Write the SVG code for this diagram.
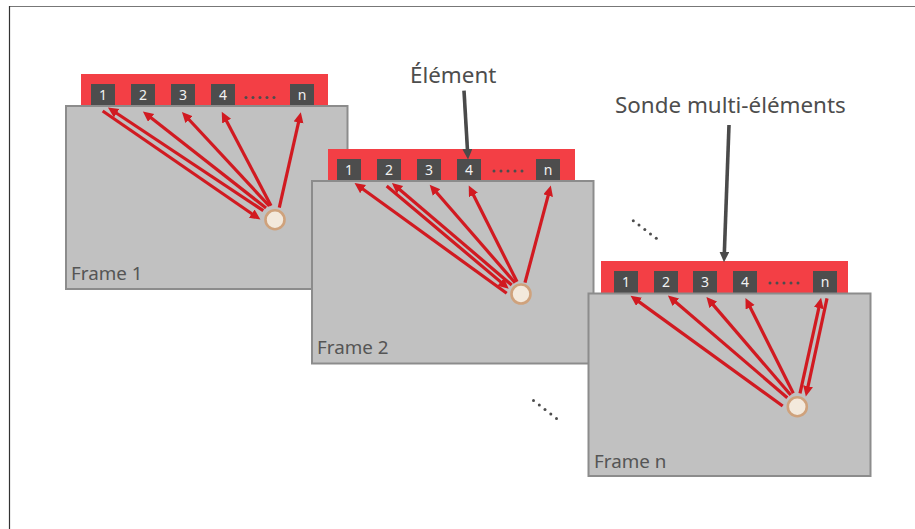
<svg xmlns="http://www.w3.org/2000/svg" width="915" height="529" viewBox="0 0 915 529">
<style>
text{font-family:"Noto Sans","Open Sans",sans-serif}
.bar{fill:#f33f45}
.el{fill:#4d4d4d}
.num{fill:#f2f2f2;font-size:14px;text-anchor:middle}
.body{fill:#c1c1c1;stroke:#8c8c8c;stroke-width:2}
.lab{fill:#555;font-size:18.800px}
.big{fill:#4d4d4d;font-size:22.400px}
.pt{fill:#f3e9dc;stroke:#cfa27c;stroke-width:2.600}
.dot{fill:#4d4d4d}
.r{stroke:#d11a21;stroke-width:3.200;fill:none;marker-end:url(#ar)}
.k{stroke:#4a4a4a;stroke-width:3.600;fill:none;marker-end:url(#ak)}
</style>
<defs>
<marker id="ar" markerUnits="userSpaceOnUse" markerWidth="12" markerHeight="11" refX="5" refY="5" orient="auto"><path d="M0,0L10.500,5L0,10z" fill="#d11a21"/></marker>
<marker id="ak" markerUnits="userSpaceOnUse" markerWidth="12" markerHeight="11" refX="5" refY="5" orient="auto"><path d="M0,0L10.500,5L0,10z" fill="#4a4a4a"/></marker>
</defs>
<rect width="915" height="529" fill="#fff"/>
<g id="border" fill="none"><path d="M915,6.500H9" stroke="#777" stroke-width="1.200"/><path d="M9.500,6V529" stroke="#333" stroke-width="1.200"/></g>
<g id="frame1">
<rect class="bar" x="81" y="74" width="247" height="32"/>
<rect class="el" x="91" y="84" width="24" height="22"/><rect class="el" x="131" y="84" width="24" height="22"/><rect class="el" x="171" y="84" width="24" height="22"/><rect class="el" x="211" y="84" width="24" height="22"/><rect class="el" x="290" y="84" width="24" height="22"/>
<text class="num" x="103" y="100">1</text><text class="num" x="143" y="100">2</text><text class="num" x="183" y="100">3</text><text class="num" x="223" y="100">4</text><text class="num" x="302" y="100">n</text>
<circle class="dot" cx="246" cy="97.500" r="1.500"/><circle class="dot" cx="253" cy="97.500" r="1.500"/><circle class="dot" cx="260" cy="97.500" r="1.500"/><circle class="dot" cx="267" cy="97.500" r="1.500"/><circle class="dot" cx="274" cy="97.500" r="1.500"/>
<rect class="body" x="66" y="106" width="281.500" height="183"/>
<text class="lab" x="71" y="280">Frame 1</text>
<circle class="pt" cx="275" cy="219.700" r="9.500"/>
</g>
<g id="frame2">
<rect class="bar" x="328" y="149" width="247" height="32"/>
<rect class="el" x="337" y="159" width="24" height="22"/><rect class="el" x="377" y="159" width="24" height="22"/><rect class="el" x="417" y="159" width="24" height="22"/><rect class="el" x="457" y="159" width="24" height="22"/><rect class="el" x="536" y="159" width="24" height="22"/>
<text class="num" x="349" y="175">1</text><text class="num" x="389" y="175">2</text><text class="num" x="429" y="175">3</text><text class="num" x="469" y="175">4</text><text class="num" x="548" y="175">n</text>
<circle class="dot" cx="494" cy="171" r="1.500"/><circle class="dot" cx="501" cy="171" r="1.500"/><circle class="dot" cx="508" cy="171" r="1.500"/><circle class="dot" cx="515" cy="171" r="1.500"/><circle class="dot" cx="522" cy="171" r="1.500"/>
<rect class="body" x="312" y="181" width="281.500" height="182.500"/>
<text class="lab" x="317" y="354">Frame 2</text>
<circle class="pt" cx="521" cy="294" r="9.500"/>
</g>
<g id="framen">
<rect class="bar" x="601" y="261" width="247" height="32"/>
<rect class="el" x="614" y="271" width="24" height="22"/><rect class="el" x="654" y="271" width="24" height="22"/><rect class="el" x="693" y="271" width="24" height="22"/><rect class="el" x="733" y="271" width="24" height="22"/><rect class="el" x="813" y="271" width="24" height="22"/>
<text class="num" x="626" y="287">1</text><text class="num" x="666" y="287">2</text><text class="num" x="705" y="287">3</text><text class="num" x="745" y="287">4</text><text class="num" x="825" y="287">n</text>
<circle class="dot" cx="770" cy="283" r="1.500"/><circle class="dot" cx="777" cy="283" r="1.500"/><circle class="dot" cx="784" cy="283" r="1.500"/><circle class="dot" cx="791" cy="283" r="1.500"/><circle class="dot" cx="798" cy="283" r="1.500"/>
<rect class="body" x="588.500" y="293.500" width="282" height="182.500"/>
<text class="lab" x="594" y="468">Frame n</text>
<circle class="pt" cx="797.300" cy="406.700" r="9.500"/>
</g>
<g id="label-element"><text class="big" x="410" y="82.500">Élément</text></g>
<g id="label-sonde"><text class="big" x="615" y="113">Sonde multi-éléments</text></g>
<g id="ellipsis-a"><circle class="dot" cx="633.300" cy="220.700" r="1.500"/><circle class="dot" cx="639" cy="225" r="1.500"/><circle class="dot" cx="644.800" cy="229.500" r="1.500"/><circle class="dot" cx="650.500" cy="234" r="1.500"/><circle class="dot" cx="656.300" cy="238.300" r="1.500"/></g>
<g id="ellipsis-b"><circle class="dot" cx="533.500" cy="400.500" r="1.500"/><circle class="dot" cx="539.300" cy="405" r="1.500"/><circle class="dot" cx="545" cy="409.500" r="1.500"/><circle class="dot" cx="550.800" cy="414" r="1.500"/><circle class="dot" cx="556.500" cy="418.500" r="1.500"/></g>
<g id="connectors">
<path class="r" d="M102.700,111L255.900,216.500"/>
<path class="r" d="M263.300,210.700L112.500,110.500"/>
<path class="r" d="M266,208L147.200,114.800"/>
<path class="r" d="M269.300,206L185.700,116"/>
<path class="r" d="M271,205.700L224.300,116.700"/>
<path class="r" d="M279.300,207.700L299.600,117.600"/>
<path class="r" d="M506.700,293.300L359,186.200"/>
<path class="r" d="M386.700,186L504.500,285.100"/>
<path class="r" d="M511.700,285L396.100,186.500"/>
<path class="r" d="M515,282.700L433.300,188.800"/>
<path class="r" d="M517,281.700L471.200,190.500"/>
<path class="r" d="M525,282.700L549.400,190.800"/>
<path class="r" d="M782.700,406L635,298.900"/>
<path class="r" d="M787.300,397.700L672.100,299"/>
<path class="r" d="M790.700,395L710,301.100"/>
<path class="r" d="M793.300,393.300L747.900,302.800"/>
<path class="r" d="M800,393.300L819.900,303.200"/>
<path class="r" d="M827,298.300L807,391.100"/>
<path class="k" d="M464,90.700L467.700,154"/>
<path class="k" d="M729,125L724.200,256.700"/>
</g>
</svg>
